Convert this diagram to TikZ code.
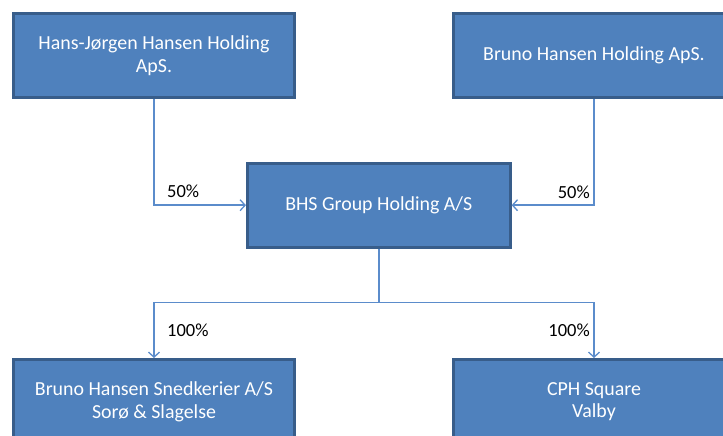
\documentclass[tikz,border=0pt]{standalone}
\usepackage{fontspec}
\setmainfont{Carlito}
\usetikzlibrary{arrows.meta}
\definecolor{boxfill}{HTML}{4F81BD}
\definecolor{boxline}{HTML}{385D8A}
\definecolor{conn}{HTML}{5B8CCB}
\tikzset{
  orgbox/.style={draw=boxline, line width=3pt, fill=boxfill, text=white,
    minimum width=281pt, minimum height=84pt, inner sep=0pt, align=center,
    font=\fontsize{19.9}{22.6}\selectfont},
  conline/.style={draw=conn, line width=1.5pt},
  conarrow/.style={conline, -{Straight Barb[length=5pt,width=11pt,line width=1.3pt]}},
  pct/.style={inner sep=0pt, font=\fontsize{18.5}{22}\selectfont, text=black}
}
\begin{document}
\begin{tikzpicture}[x=1pt,y=-1pt]
\useasboundingbox (0,0) rectangle (723,436);
\clip (0,0) rectangle (723,436);
\node[orgbox] (A) at (154,55.4) {Hans-Jørgen Hansen Holding\\ApS.};
\node[orgbox] (B) at (594,55.4) {Bruno Hansen Holding ApS.};
\node[orgbox, minimum width=262.7pt] (C) at (378.8,205.2) {BHS Group Holding A/S};
\node[orgbox] (D) at (154,401.5) {Bruno Hansen Snedkerier A/S\\Sorø \& Slagelse};
\node[orgbox] (E) at (594,401.5) {CPH Square\\Valby};
\coordinate (J) at (378.8,302.7);
\draw[conarrow] (A.south) |- (C.west);
\draw[conarrow] (B.south) |- (C.east);
\draw[conline] (C.south) -- (J);
\draw[conarrow] (J) -| (D.north);
\draw[conarrow] (J) -| (E.north);
\node[pct, anchor=base west] (p1) at (167,197) {50\%};
\node[pct, anchor=base east] (p2) at (590,198) {50\%};
\node[pct, anchor=base west] (p3) at (167,336.7) {100\%};
\node[pct, anchor=base east] (p4) at (590,336.7) {100\%};
\end{tikzpicture}
\end{document}
